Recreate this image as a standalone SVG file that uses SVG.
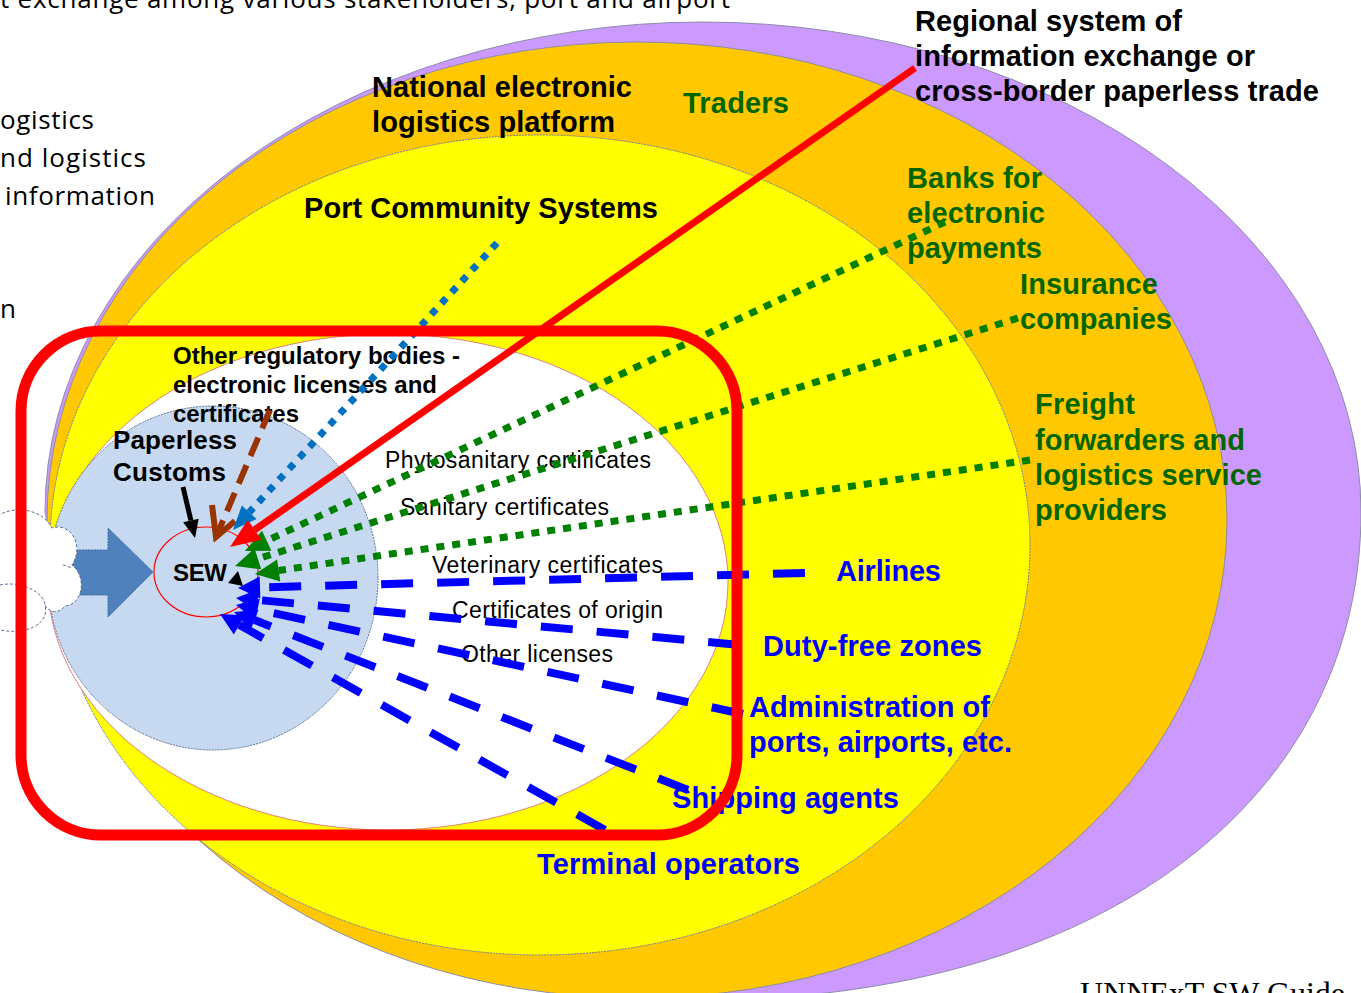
<svg xmlns="http://www.w3.org/2000/svg" width="1361" height="993" viewBox="0 0 1361 993">
<style>
.cal{font-family:"Open Sans","Liberation Sans",sans-serif;font-size:26px;fill:#000}
.b{font-family:"Liberation Sans",Arial,sans-serif;font-weight:bold;font-size:29px}
.bk{fill:#000}
.gr{fill:#006600}
.bl{fill:#0000FF}
.sm{font-family:"Liberation Sans",Arial,sans-serif;font-weight:bold;font-size:24px;fill:#000}
.reg{font-family:"Liberation Sans",Arial,sans-serif;font-size:23px;fill:#000}
.ring{stroke:#8C8CA8;stroke-width:1}
.gdot{fill:none;stroke:#008000;stroke-width:7;stroke-dasharray:8 8}
.bdash{fill:none;stroke:#0000FF;stroke-width:8;stroke-dasharray:32 24}
</style>
<defs>
<marker id="hRed" markerUnits="userSpaceOnUse" markerWidth="30" markerHeight="24" refX="0" refY="12" orient="auto" overflow="visible"><path d="M0,0 L30,12 L0,24 Z" fill="#FF0000"/></marker>
<marker id="hBlueDot" markerUnits="userSpaceOnUse" markerWidth="24" markerHeight="20" refX="0" refY="10" orient="auto" overflow="visible"><path d="M0,0 L24,10 L0,20 Z" fill="#0070C0"/></marker>
<marker id="hGreen" markerUnits="userSpaceOnUse" markerWidth="24" markerHeight="22" refX="0" refY="11" orient="auto" overflow="visible"><path d="M0,0 L24,11 L0,22 Z" fill="#008000"/></marker>
<marker id="hBlue" markerUnits="userSpaceOnUse" markerWidth="22" markerHeight="22" refX="0" refY="11" orient="auto" overflow="visible"><path d="M0,0 L22,11 L0,22 Z" fill="#0000FF"/></marker>
<marker id="hBlack" markerUnits="userSpaceOnUse" markerWidth="18" markerHeight="16" refX="0" refY="8" orient="auto" overflow="visible"><path d="M0,0 L18,8 L0,16 Z" fill="#000"/></marker>
</defs>
<rect width="1361" height="993" fill="#FFFFFF"/>

<g id="regional-ring"><path d="M45,512 A658,490 0 0 1 1361,512 C1361,800 1100,1000 700,1000 C400,1000 100,800 45,512 Z" fill="#CC99FF" class="ring"/></g>
<g id="national-ring"><ellipse cx="637" cy="520" rx="590" ry="478" fill="#FFC800" class="ring"/></g>
<g id="port-ring"><ellipse cx="540" cy="545" rx="490" ry="410" fill="#FFFF00" stroke="#6B7FA8" stroke-width="1" stroke-dasharray="2 1"/></g>
<g id="regulatory-ring"><ellipse cx="388" cy="582" rx="340" ry="248" fill="#FFFFFF" stroke="#E08080" stroke-width="1"/></g>
<g id="customs"><ellipse cx="213" cy="578" rx="165" ry="172" fill="#C6D9F1" stroke="#5A7196" stroke-width="1" stroke-dasharray="2 1"/></g>
<g id="input-arrow"><polygon points="70,550 108,550 108,528 153,572 108,617 108,595 70,595" fill="#4F81BD" stroke="#3E6A9E" stroke-width="1" stroke-dasharray="2 1"/></g>
<g id="cloud">
<path d="M-10,522 C5,505 40,505 52,528 C70,522 85,545 72,565 C88,578 82,605 65,606 C58,615 48,612 45,605 C50,625 25,635 0,630 L-10,630 Z" fill="#FFFFFF" stroke="#5A7196" stroke-width="1" stroke-dasharray="3 2"/>
<path d="M0,585 C25,580 45,595 45,605 M63,565 L72,568" fill="none" stroke="#5A7196" stroke-width="1" stroke-dasharray="3 2"/>
</g>
<g id="sew"><ellipse cx="206" cy="572" rx="52" ry="45" fill="none" stroke="#FF0000" stroke-width="1.2"/>
<text class="sm" x="173" y="581" textLength="54">SEW</text></g>

<g id="labels">
<text class="cal" x="0" y="8" textLength="730">t exchange among various stakeholders, port and airport</text>
<text class="cal" x="0" y="129" textLength="94">ogistics</text>
<text class="cal" x="0" y="167" textLength="146">nd logistics</text>
<text class="cal" x="5" y="205" textLength="150">information</text>
<text class="cal" x="0" y="318">n</text>
<text class="b bk" x="915" y="31" textLength="267">Regional system of</text>
<text class="b bk" x="915" y="66" textLength="340">information exchange or</text>
<text class="b bk" x="915" y="101" textLength="404">cross-border paperless trade</text>
<text class="b bk" x="372" y="97" textLength="260">National electronic</text>
<text class="b bk" x="372" y="132" textLength="243">logistics platform</text>
<text class="b gr" x="683" y="113" textLength="106">Traders</text>
<text class="b bk" x="304" y="218" textLength="354">Port Community Systems</text>
<text class="b gr" x="907" y="188" textLength="135">Banks for</text>
<text class="b gr" x="907" y="223" textLength="138">electronic</text>
<text class="b gr" x="907" y="258" textLength="135">payments</text>
<text class="b gr" x="1020" y="294" textLength="138">Insurance</text>
<text class="b gr" x="1020" y="329" textLength="152">companies</text>
<text class="b gr" x="1035" y="414" textLength="100">Freight</text>
<text class="b gr" x="1035" y="450" textLength="210">forwarders and</text>
<text class="b gr" x="1035" y="485" textLength="227">logistics service</text>
<text class="b gr" x="1035" y="520" textLength="132">providers</text>
<text class="b bl" x="836" y="581" textLength="105">Airlines</text>
<text class="b bl" x="763" y="656" textLength="219">Duty-free zones</text>
<text class="b bl" x="749" y="717" textLength="241">Administration of</text>
<text class="b bl" x="749" y="752" textLength="263">ports, airports, etc.</text>
<text class="b bl" x="672" y="808" textLength="227">Shipping agents</text>
<text class="b bl" x="537" y="874" textLength="263">Terminal operators</text>
<text class="sm" x="173" y="364" textLength="287">Other regulatory bodies -</text>
<text class="sm" x="173" y="393" textLength="264">electronic licenses and</text>
<text class="sm" x="173" y="422" textLength="126">certificates</text>
<text class="sm" x="113" y="449" textLength="124" style="font-size:26px">Paperless</text>
<text class="sm" x="113" y="481" textLength="113" style="font-size:26px">Customs</text>
<text class="reg" x="385" y="468" textLength="266">Phytosanitary certificates</text>
<text class="reg" x="400" y="515" textLength="209">Sanitary certificates</text>
<text class="reg" x="432" y="573" textLength="231">Veterinary certificates</text>
<text class="reg" x="452" y="618" textLength="211">Certificates of origin</text>
<text class="reg" x="461" y="662" textLength="152">Other licenses</text>
<text x="1080" y="1004" textLength="265" style="font-family:'Liberation Serif','Times New Roman',serif;font-size:32px;fill:#000">UNNExT SW Guide</text>
</g>

<g id="connectors">
<line x1="270" y1="410" x2="216" y2="537" stroke="#993300" stroke-width="6" stroke-dasharray="20 10"/>
<polyline points="212,505 216,537 235,521" fill="none" stroke="#993300" stroke-width="6" stroke-linejoin="miter"/>
<line x1="497" y1="243" x2="249.2" y2="512.3" stroke="#0070C0" stroke-width="7" stroke-dasharray="7 8" marker-end="url(#hBlueDot)"/>
<line x1="945" y1="222" x2="266.7" y2="540.8" class="gdot" marker-end="url(#hGreen)"/>
<line x1="1018" y1="318" x2="257.9" y2="558.8" class="gdot" marker-end="url(#hGreen)"/>
<line x1="1030" y1="460" x2="278.7" y2="570.5" class="gdot" marker-end="url(#hGreen)"/>
<line x1="805" y1="573" x2="260" y2="587.4" class="bdash" marker-end="url(#hBlue)"/>
<line x1="740" y1="645" x2="257.9" y2="600" class="bdash" marker-end="url(#hBlue)"/>
<line x1="743" y1="714" x2="257.5" y2="609.6" class="bdash" marker-end="url(#hBlue)"/>
<line x1="688" y1="790" x2="254.5" y2="620" class="bdash" marker-end="url(#hBlue)"/>
<line x1="605" y1="830" x2="239.2" y2="624.8" class="bdash" marker-end="url(#hBlue)"/>
<line x1="183" y1="487" x2="190.9" y2="520.5" stroke="#000" stroke-width="5" marker-end="url(#hBlack)"/>
<polygon points="228,583 238,571 243,586" fill="#000"/>
<line x1="915" y1="68" x2="254.6" y2="529.8" stroke="#FF0000" stroke-width="7" marker-end="url(#hRed)"/>
</g>

<g id="sw-boundary"><rect x="21" y="331" width="716" height="504" rx="80" ry="80" fill="none" stroke="#FF0000" stroke-width="11"/></g>
</svg>
